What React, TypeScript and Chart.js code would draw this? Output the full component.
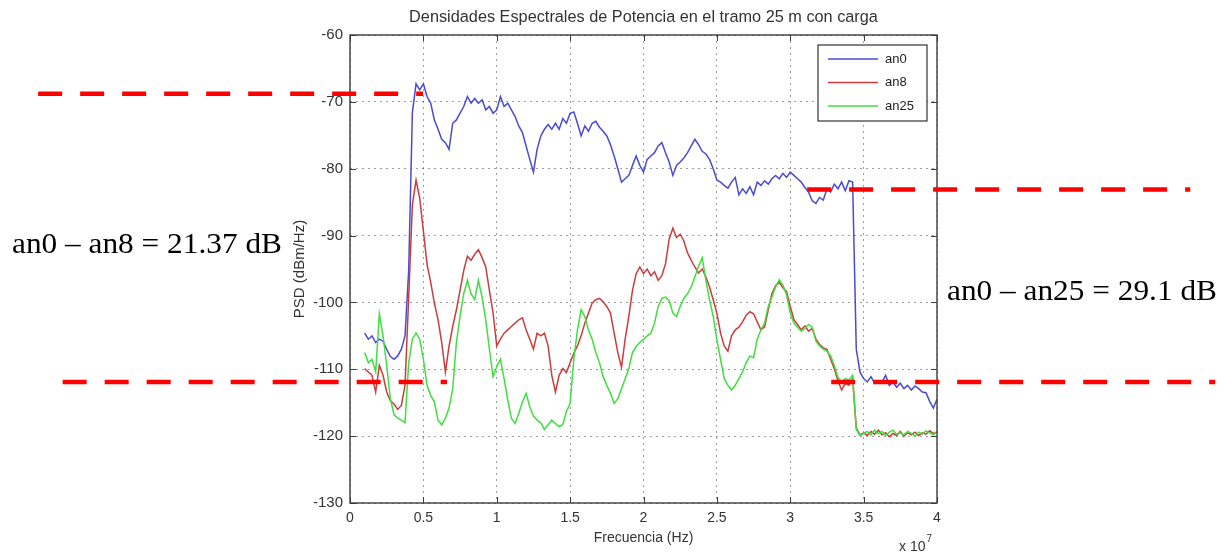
import { useEffect, useRef } from "react";
import { Chart, registerables } from "chart.js";

Chart.register(...registerables);

const TITLE = "Densidades Espectrales de Potencia en el tramo 25 m con carga";
const X_TITLE = "Frecuencia (Hz)";
const Y_TITLE = "PSD (dBm/Hz)";
const X_EXPONENT_BASE = "x 10";
const X_EXPONENT = "7";
const SERIES_LABELS = ["an0", "an8", "an25"];
const SERIES_COLORS = ["#4a4ad2", "#cc3c3c", "#3ee03e"];

const FREQ_START_HZ = 1e6;
const FREQ_STEP_HZ = 2.5e5;

const AN0 = [
  -104.6, -105.5, -105.0, -106.0, -105.5, -105.8, -107.0, -108.1, -108.5, -108.0,
  -107.0, -105.0, -95.2, -71.6, -67.3, -68.2, -67.3, -69.2, -70.2, -72.7,
  -74.1, -75.6, -76.1, -77.1, -73.2, -72.7, -71.7, -70.7, -69.2, -70.2,
  -69.5, -70.2, -69.7, -71.2, -70.7, -71.7, -71.2, -69.2, -70.7, -70.2,
  -71.2, -72.2, -73.6, -74.6, -76.6, -78.6, -80.5, -77.1, -75.1, -74.1,
  -73.4, -74.1, -73.2, -74.1, -72.5, -73.2, -71.7, -71.5, -73.2, -75.1,
  -73.6, -74.4, -73.2, -72.9, -73.8, -74.4, -75.1, -76.4, -78.1, -80.0,
  -82.0, -81.5, -81.0, -79.5, -78.1, -79.5, -80.5, -78.6, -78.1, -77.6,
  -76.6, -76.1, -77.6, -79.0, -81.0, -79.5, -79.0, -78.4, -77.6, -76.6,
  -75.6, -76.4, -77.4, -77.8, -78.6, -80.0, -81.7, -82.0, -82.5, -82.9,
  -82.0, -81.3, -83.9, -83.0, -83.7, -82.7, -83.9, -82.0, -82.5, -81.8,
  -82.3, -81.5, -81.0, -81.5, -80.7, -81.3, -80.5, -81.0, -81.5, -82.0,
  -82.8, -83.5, -84.8, -85.2, -84.3, -84.7, -83.0, -83.5, -82.3, -83.0,
  -82.0, -83.3, -81.8, -82.0, -107.0, -110.4, -111.4, -111.9, -111.1, -112.1,
  -111.7, -111.9, -110.9, -112.4, -111.9, -112.7, -112.1, -112.9, -112.4, -113.1,
  -112.5, -112.9, -113.4, -113.5, -114.8, -115.8, -114.5,
];

const AN8 = [
  -109.9, -110.4, -110.9, -113.4, -109.4, -110.9, -113.4, -114.7, -115.2, -116.0,
  -115.4, -112.4, -99.2, -85.4, -81.7, -84.4, -89.3, -94.3, -97.0, -100.1,
  -102.6, -106.0, -110.4, -106.5, -103.6, -101.1, -98.2, -95.2, -93.1, -93.7,
  -92.8, -92.1, -93.3, -94.7, -98.2, -101.6, -106.5, -105.5, -104.6, -104.1,
  -103.6, -103.1, -102.6, -102.3, -104.1, -105.5, -107.0, -104.6, -105.0, -104.6,
  -106.5, -110.9, -113.4, -110.9, -109.9, -110.5, -109.0, -107.6, -106.5, -105.0,
  -103.1, -101.6, -100.1, -99.6, -99.4, -99.9, -100.6, -101.6, -104.6, -107.5,
  -109.7, -105.5, -102.1, -98.2, -95.7, -94.7, -95.7, -95.0, -96.0, -95.4,
  -96.7, -96.0, -94.2, -90.5, -88.9, -90.3, -89.8, -90.8, -92.6, -93.7,
  -94.7, -95.6, -95.0, -96.2, -97.7, -99.6, -101.6, -104.6, -106.5, -107.3,
  -105.0, -104.1, -103.7, -102.9, -101.9, -101.4, -101.7, -102.9, -104.1, -103.7,
  -101.1, -98.7, -97.5, -97.0, -97.8, -98.4, -100.6, -102.6, -103.3, -104.1,
  -103.5, -104.3, -103.9, -105.5, -106.3, -106.8, -107.0, -108.5, -109.9, -111.7,
  -113.1, -112.1, -112.4, -111.4, -118.8, -119.8, -119.5, -119.9, -119.3, -119.7,
  -119.1, -119.8, -119.5, -120.1, -119.6, -119.9, -119.3, -120.0, -119.5, -119.8,
  -119.4, -119.9, -119.5, -119.7, -119.2, -119.6, -119.4,
];

const AN25 = [
  -107.5, -109.0, -108.5, -110.4, -101.7, -105.0, -109.4, -114.4, -116.8, -117.3,
  -117.6, -118.0, -109.0, -105.5, -104.6, -105.5, -108.5, -112.4, -113.9, -114.9,
  -117.6, -118.3, -117.3, -115.8, -112.9, -106.0, -102.1, -98.7, -96.7, -98.7,
  -99.6, -96.7, -99.2, -102.6, -107.0, -111.1, -109.6, -108.5, -111.4, -114.6,
  -117.3, -118.1, -116.6, -114.9, -113.6, -115.6, -117.0, -117.6, -118.0, -119.0,
  -118.3, -117.6, -118.1, -118.6, -118.3, -116.3, -115.1, -108.5, -104.1, -101.1,
  -102.1, -104.1, -105.5, -107.5, -109.0, -111.1, -112.4, -113.6, -115.1, -114.4,
  -112.9, -111.4, -109.9, -107.5, -106.6, -106.0, -105.5, -105.0, -104.6, -103.1,
  -100.6, -99.4, -99.2, -99.7, -101.6, -102.1, -100.6, -99.4, -98.7, -97.7,
  -96.2, -94.6, -93.3, -96.7, -99.6, -102.1, -105.6, -108.5, -111.4, -112.4,
  -113.1, -112.4, -111.4, -110.4, -109.0, -108.0, -108.3, -105.5, -104.1, -103.1,
  -100.6, -99.2, -97.7, -96.6, -97.4, -98.9, -101.6, -103.1, -103.7, -104.3,
  -103.9, -103.3, -103.7, -105.8, -106.5, -107.0, -107.3, -108.0, -109.4, -111.2,
  -111.9, -111.4, -111.6, -110.9, -119.0, -119.9, -119.6, -119.3, -119.8, -119.1,
  -119.6, -119.3, -119.9, -119.4, -119.1, -119.7, -119.5, -119.8, -119.3, -119.6,
  -120.0, -119.4, -119.7, -119.2, -119.5, -119.8, -119.3,
];

const X_MIN = 0;
const X_MAX = 4e7;
const X_STEP = 5e6;
const X_TICK_DIVISOR = 1e7;
const Y_MIN = -130;
const Y_MAX = -60;
const Y_STEP = 10;

// red dashed reference levels (data units; x ranges run past the axes)
const REF_LINE_Y = [-68.8, -83.1, -111.9, -111.9];
const REF_LINE_X_FROM = [-2.125e7, 3.115e7, -1.958e7, 3.279e7];
const REF_LINE_X_TO = [0.4976e7, 5.726e7, 0.661e7, 5.896e7];

const NOTES = ["an0 \u2013 an8 = 21.37 dB", "an0 \u2013 an25 = 29.1 dB"];

const FONT = "'Liberation Sans', Arial, Helvetica, sans-serif";

const frameAndExtras = {
  id: "frameAndExtras",
  afterDatasetsDraw(chart: any) {
    const { ctx, chartArea: a, scales } = chart;
    const x = scales.x;
    const y = scales.y;
    ctx.save();
    ctx.strokeStyle = "#3c3c3c";
    ctx.lineWidth = 1;
    ctx.beginPath();
    x.ticks.forEach((t: any) => {
      const px = Math.round(x.getPixelForValue(t.value)) + 0.5;
      ctx.moveTo(px, a.bottom);
      ctx.lineTo(px, a.bottom - 6);
      ctx.moveTo(px, a.top);
      ctx.lineTo(px, a.top + 6);
    });
    y.ticks.forEach((t: any) => {
      const py = Math.round(y.getPixelForValue(t.value)) + 0.5;
      ctx.moveTo(a.left, py);
      ctx.lineTo(a.left + 6, py);
      ctx.moveTo(a.right, py);
      ctx.lineTo(a.right - 6, py);
    });
    ctx.stroke();
    ctx.lineWidth = 1.4;
    ctx.strokeRect(a.left, a.top, a.right - a.left, a.bottom - a.top);
    ctx.restore();
  },
  afterDraw(chart: any) {
    const { ctx, chartArea: a, scales } = chart;
    const x = scales.x;
    const y = scales.y;
    ctx.save();
    // title, centred over the axes box
    ctx.fillStyle = "#333";
    ctx.font = `16.3px ${FONT}`;
    ctx.textAlign = "center";
    ctx.textBaseline = "middle";
    ctx.fillText(TITLE, (a.left + a.right) / 2, 17.5);
    // legend box
    const bw = 109;
    const bh = 76;
    const bx = a.right - 10 - bw;
    const by = a.top + 10;
    ctx.fillStyle = "#ffffff";
    ctx.fillRect(bx, by, bw, bh);
    ctx.strokeStyle = "#333";
    ctx.lineWidth = 1.2;
    ctx.strokeRect(bx, by, bw, bh);
    ctx.font = `13px ${FONT}`;
    ctx.textBaseline = "middle";
    ctx.textAlign = "left";
    chart.data.datasets.forEach((ds: any, i: number) => {
      const ly = by + 14 + i * 23.5;
      ctx.strokeStyle = ds.borderColor;
      ctx.lineWidth = 1.5;
      ctx.beginPath();
      ctx.moveTo(bx + 10, ly);
      ctx.lineTo(bx + 60, ly);
      ctx.stroke();
      ctx.fillStyle = "#222";
      ctx.fillText(ds.label, bx + 67, ly);
    });
    // x 10^7
    ctx.fillStyle = "#333";
    ctx.font = `14px ${FONT}`;
    ctx.textBaseline = "alphabetic";
    const ex = x.right - 38;
    ctx.fillText(X_EXPONENT_BASE, ex, 551);
    const w = ctx.measureText(X_EXPONENT_BASE).width;
    ctx.font = `10px ${FONT}`;
    ctx.fillText(X_EXPONENT, ex + w + 1, 542);
    // red dashed reference lines
    ctx.strokeStyle = "#ff0000";
    ctx.lineWidth = 4.5;
    ctx.setLineDash([24, 18]);
    ctx.lineCap = "butt";
    REF_LINE_Y.forEach((v, i) => {
      const py = y.getPixelForValue(v);
      ctx.beginPath();
      ctx.moveTo(x.getPixelForValue(REF_LINE_X_FROM[i]), py);
      ctx.lineTo(x.getPixelForValue(REF_LINE_X_TO[i]), py);
      ctx.stroke();
    });
    ctx.restore();
  },
};

export default function App() {
  const ref = useRef<HTMLCanvasElement>(null);

  useEffect(() => {
    const canvas = ref.current;
    if (!canvas) return;
    const toPoints = (vals: number[]) =>
      vals.map((v, i) => ({ x: FREQ_START_HZ + i * FREQ_STEP_HZ, y: v }));
    const series = [AN0, AN8, AN25];
    const chart = new Chart(canvas, {
      type: "line",
      data: {
        datasets: series.map((vals, i) => ({
          label: SERIES_LABELS[i],
          data: toPoints(vals),
          borderColor: SERIES_COLORS[i],
          backgroundColor: SERIES_COLORS[i],
          borderWidth: 1.5,
          pointRadius: 0,
          tension: 0,
          fill: false,
          order: 3 - i,
        })),
      },
      options: {
        animation: false,
        responsive: false,
        devicePixelRatio: 1,
        layout: { padding: { left: 0, right: 294, top: 35, bottom: 0 } },
        plugins: {
          legend: { display: false },
          tooltip: { enabled: false },
          title: { display: false },
        },
        scales: {
          x: {
            type: "linear",
            min: X_MIN,
            max: X_MAX,
            afterFit: (s: any) => {
              s.height = 50;
            },
            ticks: {
              stepSize: X_STEP,
              autoSkip: false,
              maxRotation: 0,
              padding: 7,
              color: "#333",
              font: { size: 14, family: FONT },
              callback: (v: any) => String(Number(v) / X_TICK_DIVISOR),
            },
            grid: { color: "rgba(0,0,0,0.38)", lineWidth: 1, drawTicks: false },
            border: { display: false, dash: [2, 4] },
            title: {
              display: true,
              text: X_TITLE,
              color: "#333",
              font: { size: 14, family: FONT },
              padding: { top: 0, bottom: 6.6 },
            },
          },
          y: {
            type: "linear",
            min: Y_MIN,
            max: Y_MAX,
            afterFit: (s: any) => {
              s.width = 350;
            },
            ticks: {
              stepSize: Y_STEP,
              padding: 7,
              color: "#333",
              font: { size: 15, family: FONT },
            },
            grid: { color: "rgba(0,0,0,0.38)", lineWidth: 1, drawTicks: false },
            border: { display: false, dash: [2, 4] },
            title: {
              display: true,
              text: Y_TITLE,
              color: "#333",
              font: { size: 15, family: FONT },
              padding: { top: 291, bottom: 0 },
            },
          },
        },
      },
      plugins: [frameAndExtras],
    } as any);
    return () => chart.destroy();
  }, []);

  const noteStyle: any = {
    position: "absolute",
    font: "30px 'Liberation Serif', 'Times New Roman', serif",
    lineHeight: "30px",
    whiteSpace: "nowrap",
    color: "#000",
    transform: "scaleX(1.044)",
    transformOrigin: "left top",
  };

  return (
    <div style={{ position: "absolute", left: 0, top: 0, width: 1231, height: 553, background: "#fff" }}>
      <canvas
        ref={ref}
        width={1231}
        height={553}
        style={{ position: "absolute", left: 0, top: 0, width: 1231, height: 553 }}
      />
      <div style={{ ...noteStyle, left: 11.5, top: 227.6 }}>{NOTES[0]}</div>
      <div style={{ ...noteStyle, left: 946.5, top: 274.9 }}>{NOTES[1]}</div>
    </div>
  );
}
